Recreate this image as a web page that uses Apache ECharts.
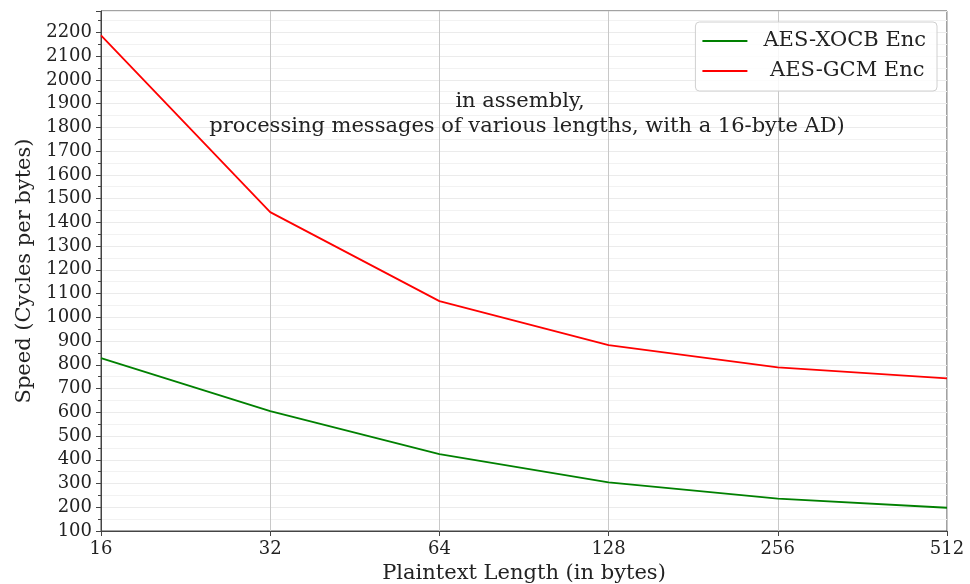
<!DOCTYPE html>
<html>
<head>
<meta charset="utf-8">
<script src="https://cdn.jsdelivr.net/npm/echarts@6/dist/echarts.min.js"></script>
<style>html,body{margin:0;padding:0;background:#fff}#c{width:970px;height:584px}</style>
</head>
<body>
<div id="c"></div>
<script>
var categories = ['16', '32', '64', '128', '256', '512'];
var xocbValues = [828, 605, 424, 305, 236, 198];
var gcmValues = [2187, 1443, 1068, 883, 789, 743];
var seriesNames = ['AES-XOCB Enc', ' AES-GCM Enc'];
var annotationLine1 = 'in assembly,';
var annotationLine2 = 'processing messages of various lengths, with a 16-byte AD)';
var xTitle = 'Plaintext Length (in bytes)';
var yTitle = 'Speed (Cycles per bytes)';

var FONT = '"DejaVu Serif", serif';
var chart = echarts.init(document.getElementById('c'), null, {renderer: 'canvas'});
chart.setOption({
  animation: false,
  backgroundColor: '#fff',
  grid: {left: 101, right: 23, top: 11, bottom: 53, outerBoundsMode: 'none', containLabel: false,
         show: true, borderColor: '#444', borderWidth: 1, backgroundColor: 'transparent'},
  legend: {
    data: seriesNames,
    orient: 'vertical',
    right: 33, top: 22,
    icon: 'rect', itemWidth: 45, itemHeight: 2, itemGap: 8,
    padding: [8, 11, 9, 7],
    backgroundColor: 'rgba(255,255,255,0.85)',
    borderColor: '#d0d0d0', borderWidth: 1, borderRadius: 4,
    textStyle: {fontFamily: FONT, fontSize: 21, lineHeight: 22, color: '#222', padding: [0, 0, 0, 11]}
  },
  graphic: [
    {type: 'text', x: 520, y: 102, z: 10,
     style: {text: annotationLine1, font: '21px ' + FONT, fill: '#222', textAlign: 'center', textVerticalAlign: 'middle'}},
    {type: 'text', x: 527, y: 127, z: 10,
     style: {text: annotationLine2, font: '21px ' + FONT, fill: '#222', textAlign: 'center', textVerticalAlign: 'middle'}}
  ],
  xAxis: {
    type: 'category', data: categories, boundaryGap: false,
    name: xTitle, nameLocation: 'middle', nameGap: 30,
    nameTextStyle: {fontFamily: FONT, fontSize: 21, color: '#222'},
    axisLine: {lineStyle: {color: '#444'}},
    axisTick: {show: true, inside: false, length: 5, lineStyle: {color: '#444'}},
    axisLabel: {fontFamily: FONT, fontSize: 18, color: '#222', margin: 9},
    splitLine: {show: true, lineStyle: {color: '#c8c8c8', width: 1}}
  },
  yAxis: {
    type: 'value', min: 100, max: 2290, interval: 100,
    name: yTitle, nameLocation: 'middle', nameGap: 60,
    nameTextStyle: {fontFamily: FONT, fontSize: 21, color: '#222'},
    axisLine: {show: true, lineStyle: {color: '#444'}},
    axisTick: {show: true, inside: false, length: 5, lineStyle: {color: '#444'}},
    minorTick: {show: true, splitNumber: 2, length: 3, lineStyle: {color: '#444'}},
    axisLabel: {fontFamily: FONT, fontSize: 18, color: '#222', margin: 9, showMaxLabel: false,
      formatter: function (v) { return String(v); }},
    splitLine: {show: true, lineStyle: {color: '#ebebeb', width: 1}},
    minorSplitLine: {show: true, lineStyle: {color: '#f2f2f2', width: 1}}
  },
  series: [
    {name: seriesNames[0], type: 'line', data: xocbValues, symbol: 'none', lineStyle: {color: '#008000', width: 1.8}, itemStyle: {color: '#008000'}},
    {name: seriesNames[1], type: 'line', data: gcmValues, symbol: 'none', lineStyle: {color: '#ff0000', width: 1.8}, itemStyle: {color: '#ff0000'}}
  ]
});
</script>
</body>
</html>
